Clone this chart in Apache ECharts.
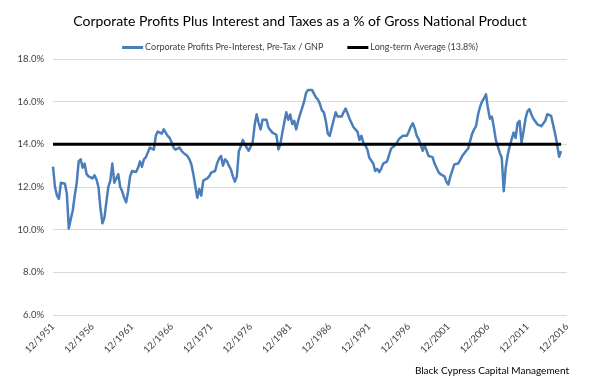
<!DOCTYPE html>
<html>
<head>
<meta charset="utf-8">
<script src="https://cdn.jsdelivr.net/npm/echarts@6/dist/echarts.min.js"></script>
<style>
  html, body { margin: 0; padding: 0; background: #fff; }
  #chart { width: 600px; height: 384px; }
</style>
</head>
<body>
<div id="chart"></div>
<script>
// Quarterly category labels, 12/1951 .. 12/2016
const startYear = 1951;
const endYear = 2016;
const quarterMonths = [12, 3, 6, 9];
const categories = [];
for (let i = 0; i <= (endYear - startYear) * 4; i++) {
  categories.push(quarterMonths[i % 4] + '/' + (startYear + Math.floor((i + 3) / 4)));
}

// Corporate Profits Pre-Interest, Pre-Tax / GNP (%), quarterly from 12/1951
const profitsPct = [
  12.95, 12.0, 11.6, 11.45, 12.2, 12.25, 12.15, 11.7, 10.05, 10.5, 10.9, 11.6, 12.2, 13.2, 13.3, 12.9, 13.1, 12.6, 12.5, 12.45,
  12.4, 12.55, 12.35, 12.0, 11.0, 10.3, 10.55, 11.3, 12.0, 12.3, 13.1, 12.2, 12.25, 12.6, 12.0, 11.8, 11.5, 11.28, 11.8, 12.5,
  12.75, 12.7, 12.7, 12.9, 13.2, 12.95, 13.3, 13.4, 13.45, 13.85, 13.8, 13.75, 14.4, 14.6, 14.55, 14.5, 14.7, 14.78, 14.4, 14.3,
  14.1, 13.85, 13.75, 13.8, 13.85, 13.7, 13.6, 13.55, 13.45, 13.3, 13.06, 12.6, 12.04, 11.5, 11.9, 11.6, 12.3, 12.35, 12.4, 12.5,
  12.67, 12.65, 12.75, 13.1, 13.33, 13.45, 13.0, 13.3, 13.2, 13.0, 12.82, 12.5, 12.25, 12.5, 13.68, 13.9, 14.2, 14.0, 13.85, 13.7,
  13.68, 14.1, 14.9, 15.41, 15.0, 14.7, 15.15, 15.1, 15.15, 14.78, 14.7, 14.55, 14.5, 14.45, 13.76, 14.0, 14.55, 14.5, 15.5, 15.15,
  15.4, 14.95, 15.1, 14.7, 15.1, 15.4, 15.7, 16.0, 16.4, 16.55, 16.59, 16.55, 16.55, 16.2, 16.1, 15.9, 15.6, 15.5, 15.1, 14.5,
  14.4, 14.4, 15.15, 15.5, 15.3, 15.25, 15.3, 15.5, 15.68, 15.45, 15.2, 15.0, 14.8, 14.7, 14.6, 14.2, 14.4, 14.08, 13.95, 13.76,
  13.37, 13.45, 13.1, 12.75, 12.85, 12.7, 12.85, 13.1, 13.15, 13.2, 13.5, 13.8, 13.85, 13.95, 14.08, 14.25, 14.2, 14.4, 14.35, 14.4,
  14.6, 14.83, 14.99, 14.75, 14.4, 14.24, 14.2, 13.7, 13.95, 13.7, 13.45, 13.45, 13.4, 13.1, 12.9, 12.7, 12.6, 12.65, 12.5, 12.25,
  12.12, 12.5, 12.5, 13.06, 13.1, 13.1, 13.15, 13.45, 13.53, 13.7, 13.8, 13.75, 14.5, 14.7, 14.85, 15.4, 15.75, 16.0, 16.15, 16.35,
  15.7, 15.2, 15.3, 14.8, 14.2, 13.9, 13.6, 13.37, 11.8, 12.9, 13.5, 13.9, 14.24, 14.55, 14.3, 15.0, 15.1, 14.08, 14.6, 15.2,
  15.55, 15.65, 15.4, 15.2, 15.25, 14.94, 14.9, 14.85, 14.8, 15.1, 15.41, 15.4, 15.33, 14.9, 14.5, 14.0, 13.42, 13.68
];

// Long-term average line (drawn level in the reference)
const longTermAvg = 14.0;
const avgSeries = profitsPct.map(() => longTermAvg);

const yTicks = { min: 6, max: 18, step: 2 };

const seriesNames = ['Corporate Profits Pre-Interest, Pre-Tax / GNP', 'Long-term Average (13.8%)'];

const chart = echarts.init(document.getElementById('chart'), null, { renderer: 'canvas' });
const fam = 'Lato, "Liberation Sans", Arial, sans-serif';
chart.setOption({
  animation: false,
  backgroundColor: '#fff',
  title: {
    text: 'Corporate Profits Plus Interest and Taxes as a % of Gross National Product',
    left: 'center',
    top: 9,
    textStyle: { fontFamily: fam, fontSize: 14, fontWeight: 'normal', color: '#000' }
  },
  graphic: [{
    type: 'text',
    right: 31,
    top: 366,
    style: { text: 'Black Cypress Capital Management', font: '10px ' + fam, fill: '#000' }
  }],
  legend: {
    top: 38,
    left: 'center',
    itemWidth: 21,
    itemHeight: 3,
    itemGap: 24,
    icon: 'rect',
    textStyle: { fontFamily: fam, fontSize: 9, color: '#404040', padding: [0, 0, 0, -3] },
    data: seriesNames
  },
  grid: { left: 53, right: 33, top: 59, bottom: 69, containLabel: false },
  xAxis: {
    type: 'category',
    data: categories,
    boundaryGap: false,
    axisLine: { show: false },
    axisTick: { show: false },
    axisLabel: {
      interval: 19,
      rotate: 45,
      margin: 10,
      fontFamily: fam,
      fontSize: 9.5,
      color: '#404040'
    },
    splitLine: { show: false }
  },
  yAxis: {
    type: 'value',
    min: yTicks.min,
    max: yTicks.max,
    interval: yTicks.step,
    axisLine: { show: false },
    axisTick: { show: false },
    axisLabel: {
      formatter: v => v.toFixed(1) + '%',
      margin: 9,
      fontFamily: fam,
      fontSize: 9.5,
      color: '#404040'
    },
    splitLine: { lineStyle: { color: '#d9d9d9', width: 1 } }
  },
  series: [
    {
      name: seriesNames[0],
      type: 'line',
      data: profitsPct,
      showSymbol: false,
      symbol: 'none',
      lineStyle: { color: '#4a7ebb', width: 2.5, join: 'round' },
      itemStyle: { color: '#4a7ebb' },
      z: 2
    },
    {
      name: seriesNames[1],
      type: 'line',
      data: avgSeries,
      showSymbol: false,
      symbol: 'none',
      lineStyle: { color: '#000', width: 3 },
      itemStyle: { color: '#000' },
      z: 3
    }
  ]
});
</script>
</body>
</html>
